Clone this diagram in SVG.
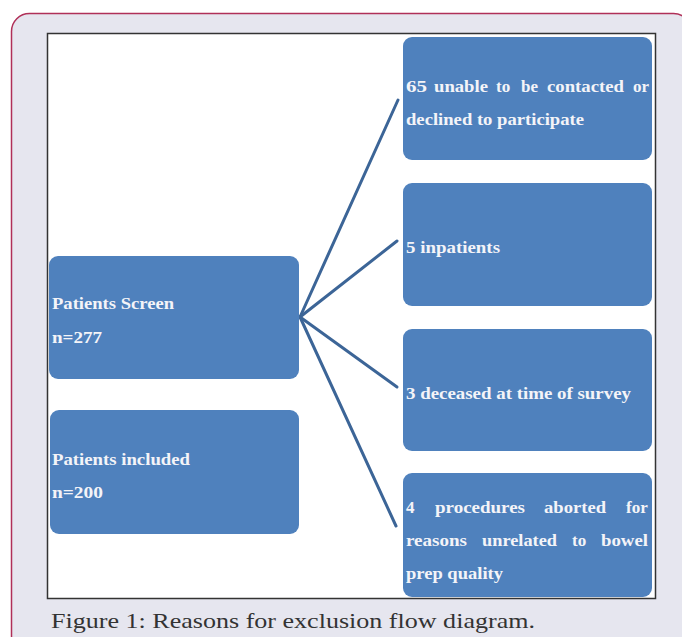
<svg xmlns="http://www.w3.org/2000/svg" width="682" height="637" viewBox="0 0 682 637">
<style>
.box{fill:#4f81bd;}
.t{font-family:"Liberation Serif","DejaVu Serif",serif;font-weight:bold;font-size:17px;fill:#f4f4f8;}
.cap{font-family:"Liberation Serif","DejaVu Serif",serif;font-size:22px;fill:#333;}
.conn{stroke:#3c6597;stroke-width:3;fill:none;stroke-linecap:round;}
</style>
<rect x="0" y="0" width="682" height="637" fill="#ffffff"/>
<rect x="11.5" y="13.5" width="680" height="640" rx="18" ry="18" fill="#e6e6ef" stroke="#b03058" stroke-width="1.5"/>
<rect x="47.5" y="33.5" width="608" height="565" fill="#ffffff" stroke="#333" stroke-width="1.5"/>
<g id="connectors">
<line class="conn" x1="300" y1="317" x2="398" y2="100"/>
<line class="conn" x1="300" y1="317" x2="397" y2="241"/>
<line class="conn" x1="300" y1="317" x2="397" y2="387"/>
<line class="conn" x1="300" y1="317" x2="396" y2="526"/>
</g>
<g id="screen">
<rect class="box" x="49" y="256" width="250" height="123" rx="9"/>
<text class="t" x="52" y="309" textLength="122" lengthAdjust="spacingAndGlyphs">Patients Screen</text>
<text class="t" x="52" y="343" textLength="50" lengthAdjust="spacingAndGlyphs">n=277</text>
</g>
<g id="included">
<rect class="box" x="50" y="410" width="249" height="124" rx="9"/>
<text class="t" x="52" y="465" textLength="138" lengthAdjust="spacingAndGlyphs">Patients included</text>
<text class="t" x="52" y="498" textLength="51" lengthAdjust="spacingAndGlyphs">n=200</text>
</g>
<g id="excl1">
<rect class="box" x="403" y="37" width="249" height="123" rx="9"/>
<text class="t" y="92"><tspan x="406" textLength="21" lengthAdjust="spacingAndGlyphs">65</tspan><tspan x="434" textLength="54" lengthAdjust="spacingAndGlyphs">unable</tspan><tspan x="496">to</tspan><tspan x="521">be</tspan><tspan x="547" textLength="77" lengthAdjust="spacingAndGlyphs">contacted</tspan><tspan x="633">or</tspan></text>
<text class="t" x="406" y="125" textLength="178" lengthAdjust="spacingAndGlyphs">declined to participate</text>
</g>
<g id="excl2">
<rect class="box" x="403" y="183" width="249" height="123" rx="9"/>
<text class="t" x="406" y="253" textLength="94" lengthAdjust="spacingAndGlyphs">5 inpatients</text>
</g>
<g id="excl3">
<rect class="box" x="403" y="329" width="249" height="122" rx="9"/>
<text class="t" x="406" y="399" textLength="225" lengthAdjust="spacingAndGlyphs">3 deceased at time of survey</text>
</g>
<g id="excl4">
<rect class="box" x="403" y="473" width="249" height="124" rx="9"/>
<text class="t" y="513"><tspan x="406">4</tspan><tspan x="435" textLength="90" lengthAdjust="spacingAndGlyphs">procedures</tspan><tspan x="544" textLength="62" lengthAdjust="spacingAndGlyphs">aborted</tspan><tspan x="626">for</tspan></text>
<text class="t" y="546"><tspan x="406" textLength="61" lengthAdjust="spacingAndGlyphs">reasons</tspan><tspan x="482" textLength="75" lengthAdjust="spacingAndGlyphs">unrelated</tspan><tspan x="572">to</tspan><tspan x="601" textLength="47" lengthAdjust="spacingAndGlyphs">bowel</tspan></text>
<text class="t" x="406" y="579" textLength="97" lengthAdjust="spacingAndGlyphs">prep quality</text>
</g>
<text class="cap" x="51" y="628" textLength="484" lengthAdjust="spacingAndGlyphs">Figure 1: Reasons for exclusion flow diagram.</text>
</svg>
